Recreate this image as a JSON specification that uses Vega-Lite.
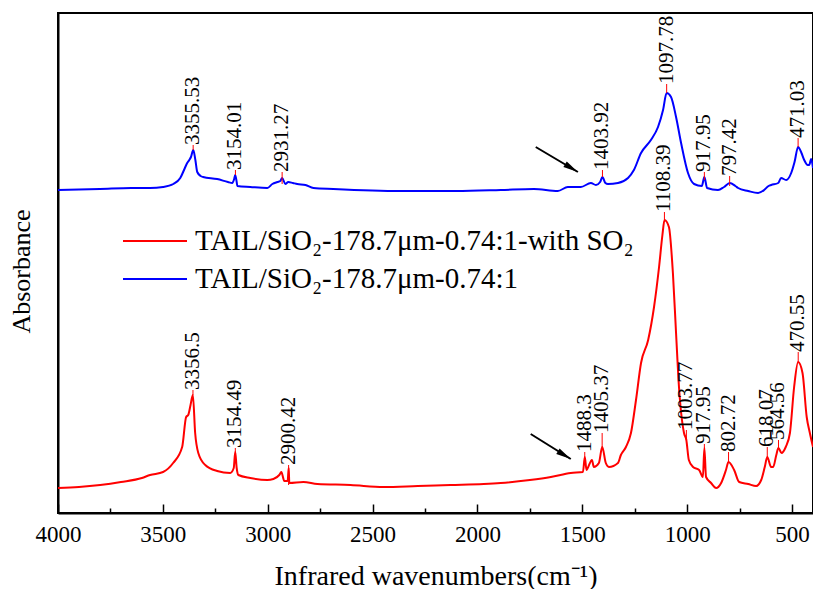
{
  "$schema": "https://vega.github.io/schema/vega-lite/v6.json",
  "width": 755,
  "height": 500,
  "autosize": {"type": "none"},
  "padding": {"left": 58, "top": 13, "right": 0, "bottom": 76},
  "background": "white",
  "config": {
    "font": "Liberation Serif",
    "view": {"stroke": "black", "strokeWidth": 2},
    "axis": {"labelFont": "Liberation Serif", "titleFont": "Liberation Serif", "titleFontWeight": "normal", "domainColor": "black", "domainWidth": 2, "tickColor": "black", "labelColor": "black", "titleColor": "black", "grid": false}
  },
  "datasets": {
    "spectra": [
      {"wn": 4000, "A": 64.6, "s": "blue"}, {"wn": 3800, "A": 64.8, "s": "blue"}, {"wn": 3650, "A": 65, "s": "blue"}, {"wn": 3561, "A": 65, "s": "blue"}, {"wn": 3499, "A": 65.2, "s": "blue"}, {"wn": 3450, "A": 65.8, "s": "blue"}, {"wn": 3417, "A": 67, "s": "blue"}, {"wn": 3395, "A": 69, "s": "blue"}, {"wn": 3384, "A": 70, "s": "blue"}, {"wn": 3374, "A": 70.6, "s": "blue"}, {"wn": 3366, "A": 71.2, "s": "blue"}, {"wn": 3355, "A": 72.6, "s": "blue"}, {"wn": 3345, "A": 70.6, "s": "blue"}, {"wn": 3336, "A": 68.2, "s": "blue"}, {"wn": 3320, "A": 67.4, "s": "blue"}, {"wn": 3308, "A": 67.2, "s": "blue"}, {"wn": 3241, "A": 66.8, "s": "blue"}, {"wn": 3190, "A": 66.2, "s": "blue"}, {"wn": 3169, "A": 66, "s": "blue"}, {"wn": 3160, "A": 66.8, "s": "blue"}, {"wn": 3155, "A": 67.6, "s": "blue"}, {"wn": 3148, "A": 66.2, "s": "blue"}, {"wn": 3145, "A": 65.4, "s": "blue"}, {"wn": 3083, "A": 65.2, "s": "blue"}, {"wn": 3002, "A": 65, "s": "blue"}, {"wn": 2978, "A": 65.8, "s": "blue"}, {"wn": 2954, "A": 66.2, "s": "blue"}, {"wn": 2940, "A": 66.4, "s": "blue"}, {"wn": 2931, "A": 67, "s": "blue"}, {"wn": 2916, "A": 65.8, "s": "blue"}, {"wn": 2902, "A": 66.2, "s": "blue"}, {"wn": 2880, "A": 66, "s": "blue"}, {"wn": 2859, "A": 65.8, "s": "blue"}, {"wn": 2820, "A": 65.6, "s": "blue"}, {"wn": 2782, "A": 65, "s": "blue"}, {"wn": 2687, "A": 64.8, "s": "blue"}, {"wn": 2367, "A": 64.4, "s": "blue"}, {"wn": 2100, "A": 64.4, "s": "blue"}, {"wn": 1889, "A": 64.6, "s": "blue"}, {"wn": 1731, "A": 64.8, "s": "blue"}, {"wn": 1617, "A": 64.4, "s": "blue"}, {"wn": 1569, "A": 65.2, "s": "blue"}, {"wn": 1507, "A": 65.2, "s": "blue"}, {"wn": 1459, "A": 66, "s": "blue"}, {"wn": 1435, "A": 65.6, "s": "blue"}, {"wn": 1415, "A": 66.2, "s": "blue"}, {"wn": 1404, "A": 67.2, "s": "blue"}, {"wn": 1390, "A": 66, "s": "blue"}, {"wn": 1378, "A": 65.8, "s": "blue"}, {"wn": 1330, "A": 66, "s": "blue"}, {"wn": 1282, "A": 67, "s": "blue"}, {"wn": 1254, "A": 68.6, "s": "blue"}, {"wn": 1220, "A": 72, "s": "blue"}, {"wn": 1173, "A": 74.6, "s": "blue"}, {"wn": 1139, "A": 77.2, "s": "blue"}, {"wn": 1115, "A": 80.6, "s": "blue"}, {"wn": 1098, "A": 84, "s": "blue"}, {"wn": 1077, "A": 83.2, "s": "blue"}, {"wn": 1053, "A": 79.2, "s": "blue"}, {"wn": 1029, "A": 74, "s": "blue"}, {"wn": 996, "A": 68, "s": "blue"}, {"wn": 967, "A": 65.8, "s": "blue"}, {"wn": 930, "A": 65.4, "s": "blue"}, {"wn": 918, "A": 67.2, "s": "blue"}, {"wn": 905, "A": 65, "s": "blue"}, {"wn": 853, "A": 64.6, "s": "blue"}, {"wn": 824, "A": 65.2, "s": "blue"}, {"wn": 797, "A": 66, "s": "blue"}, {"wn": 770, "A": 65.4, "s": "blue"}, {"wn": 757, "A": 65, "s": "blue"}, {"wn": 709, "A": 64.4, "s": "blue"}, {"wn": 662, "A": 64, "s": "blue"}, {"wn": 633, "A": 64.6, "s": "blue"}, {"wn": 612, "A": 65.4, "s": "blue"}, {"wn": 599, "A": 65.6, "s": "blue"}, {"wn": 566, "A": 66, "s": "blue"}, {"wn": 552, "A": 67, "s": "blue"}, {"wn": 528, "A": 66.6, "s": "blue"}, {"wn": 504, "A": 68, "s": "blue"}, {"wn": 488, "A": 70.2, "s": "blue"}, {"wn": 471, "A": 73.2, "s": "blue"}, {"wn": 455, "A": 72, "s": "blue"}, {"wn": 442, "A": 70.6, "s": "blue"}, {"wn": 425, "A": 69.6, "s": "blue"}, {"wn": 418, "A": 69.6, "s": "blue"}, {"wn": 409, "A": 70.8, "s": "blue"}, {"wn": 400, "A": 69, "s": "blue"},
      {"wn": 4000, "A": 5, "s": "red"}, {"wn": 3900, "A": 5.2, "s": "red"}, {"wn": 3799, "A": 5.6, "s": "red"}, {"wn": 3700, "A": 6.2, "s": "red"}, {"wn": 3600, "A": 7, "s": "red"}, {"wn": 3561, "A": 7.6, "s": "red"}, {"wn": 3499, "A": 8.2, "s": "red"}, {"wn": 3451, "A": 10, "s": "red"}, {"wn": 3408, "A": 13.2, "s": "red"}, {"wn": 3389, "A": 19.2, "s": "red"}, {"wn": 3379, "A": 19.6, "s": "red"}, {"wn": 3368, "A": 21.6, "s": "red"}, {"wn": 3357, "A": 23.6, "s": "red"}, {"wn": 3346, "A": 16, "s": "red"}, {"wn": 3331, "A": 12, "s": "red"}, {"wn": 3298, "A": 9.6, "s": "red"}, {"wn": 3241, "A": 8.4, "s": "red"}, {"wn": 3179, "A": 8, "s": "red"}, {"wn": 3162, "A": 9, "s": "red"}, {"wn": 3155, "A": 12.2, "s": "red"}, {"wn": 3148, "A": 9, "s": "red"}, {"wn": 3140, "A": 7.6, "s": "red"}, {"wn": 3083, "A": 7, "s": "red"}, {"wn": 3002, "A": 6.6, "s": "red"}, {"wn": 2973, "A": 6.8, "s": "red"}, {"wn": 2945, "A": 7.6, "s": "red"}, {"wn": 2935, "A": 8.2, "s": "red"}, {"wn": 2921, "A": 6.4, "s": "red"}, {"wn": 2905, "A": 6.4, "s": "red"}, {"wn": 2900, "A": 9, "s": "red"}, {"wn": 2897, "A": 6, "s": "red"}, {"wn": 2830, "A": 6.2, "s": "red"}, {"wn": 2763, "A": 5.8, "s": "red"}, {"wn": 2605, "A": 5.6, "s": "red"}, {"wn": 2448, "A": 5.2, "s": "red"}, {"wn": 2285, "A": 5.4, "s": "red"}, {"wn": 2128, "A": 5.6, "s": "red"}, {"wn": 1970, "A": 5.8, "s": "red"}, {"wn": 1889, "A": 6, "s": "red"}, {"wn": 1750, "A": 6.6, "s": "red"}, {"wn": 1650, "A": 7.2, "s": "red"}, {"wn": 1555, "A": 8, "s": "red"}, {"wn": 1497, "A": 8.2, "s": "red"}, {"wn": 1488, "A": 11.2, "s": "red"}, {"wn": 1480, "A": 8.6, "s": "red"}, {"wn": 1474, "A": 9, "s": "red"}, {"wn": 1454, "A": 10.6, "s": "red"}, {"wn": 1445, "A": 9.2, "s": "red"}, {"wn": 1421, "A": 10, "s": "red"}, {"wn": 1405, "A": 13.2, "s": "red"}, {"wn": 1388, "A": 10, "s": "red"}, {"wn": 1373, "A": 9.2, "s": "red"}, {"wn": 1330, "A": 10, "s": "red"}, {"wn": 1316, "A": 11.6, "s": "red"}, {"wn": 1292, "A": 13.2, "s": "red"}, {"wn": 1268, "A": 16, "s": "red"}, {"wn": 1244, "A": 22.6, "s": "red"}, {"wn": 1220, "A": 30, "s": "red"}, {"wn": 1186, "A": 34.6, "s": "red"}, {"wn": 1158, "A": 41.2, "s": "red"}, {"wn": 1134, "A": 49.2, "s": "red"}, {"wn": 1118, "A": 55.6, "s": "red"}, {"wn": 1108, "A": 58.6, "s": "red"}, {"wn": 1087, "A": 57.2, "s": "red"}, {"wn": 1068, "A": 48, "s": "red"}, {"wn": 1053, "A": 36, "s": "red"}, {"wn": 1039, "A": 25.2, "s": "red"}, {"wn": 1015, "A": 16, "s": "red"}, {"wn": 1004, "A": 14.6, "s": "red"}, {"wn": 992, "A": 10.6, "s": "red"}, {"wn": 972, "A": 9.2, "s": "red"}, {"wn": 943, "A": 8.6, "s": "red"}, {"wn": 925, "A": 7.2, "s": "red"}, {"wn": 918, "A": 13, "s": "red"}, {"wn": 910, "A": 7.2, "s": "red"}, {"wn": 886, "A": 6, "s": "red"}, {"wn": 862, "A": 5, "s": "red"}, {"wn": 838, "A": 6, "s": "red"}, {"wn": 815, "A": 8.6, "s": "red"}, {"wn": 803, "A": 10.2, "s": "red"}, {"wn": 776, "A": 8.6, "s": "red"}, {"wn": 752, "A": 6.2, "s": "red"}, {"wn": 709, "A": 5.8, "s": "red"}, {"wn": 671, "A": 5.4, "s": "red"}, {"wn": 647, "A": 6.6, "s": "red"}, {"wn": 630, "A": 9.2, "s": "red"}, {"wn": 618, "A": 11.2, "s": "red"}, {"wn": 600, "A": 9.2, "s": "red"}, {"wn": 590, "A": 9.2, "s": "red"}, {"wn": 575, "A": 11.6, "s": "red"}, {"wn": 565, "A": 13, "s": "red"}, {"wn": 550, "A": 12, "s": "red"}, {"wn": 530, "A": 13.2, "s": "red"}, {"wn": 510, "A": 16, "s": "red"}, {"wn": 490, "A": 25.2, "s": "red"}, {"wn": 471, "A": 30.2, "s": "red"}, {"wn": 450, "A": 28, "s": "red"}, {"wn": 430, "A": 19.2, "s": "red"}, {"wn": 415, "A": 16, "s": "red"}, {"wn": 400, "A": 13.2, "s": "red"}
    ],
    "peaks": [
      {"wn": 3355.53, "y0": 72.6, "y1": 73.6, "label": "3355.53"},
      {"wn": 3154.01, "y0": 67.6, "y1": 68.6, "label": "3154.01"},
      {"wn": 2931.27, "y0": 65.8, "y1": 68.2, "label": "2931.27"},
      {"wn": 1403.92, "y0": 67.2, "y1": 68.6, "label": "1403.92"},
      {"wn": 1097.78, "y0": 84, "y1": 85.8, "label": "1097.78"},
      {"wn": 917.95, "y0": 66.6, "y1": 68.2, "label": "917.95"},
      {"wn": 797.42, "y0": 65.4, "y1": 67.4, "label": "797.42"},
      {"wn": 471.03, "y0": 73.2, "y1": 75, "label": "471.03"},
      {"wn": 3356.5, "y0": 23.6, "y1": 24.6, "label": "3356.5"},
      {"wn": 3154.49, "y0": 12.2, "y1": 13, "label": "3154.49"},
      {"wn": 2900.42, "y0": 5.6, "y1": 9.6, "label": "2900.42"},
      {"wn": 1488.3, "y0": 11.2, "y1": 12.2, "label": "1488.3"},
      {"wn": 1405.37, "y0": 13.2, "y1": 16, "label": "1405.37"},
      {"wn": 1108.39, "y0": 58.6, "y1": 60.2, "label": "1108.39"},
      {"wn": 1003.77, "y0": 14.6, "y1": 16.6, "label": "1003.77"},
      {"wn": 917.95, "y0": 13, "y1": 13.8, "label": "917.95"},
      {"wn": 802.72, "y0": 10.2, "y1": 12.2, "label": "802.72"},
      {"wn": 618.07, "y0": 11.2, "y1": 13.2, "label": "618.07"},
      {"wn": 564.56, "y0": 13, "y1": 14.6, "label": "564.56"},
      {"wn": 470.55, "y0": 30.2, "y1": 32.2, "label": "470.55"}
    ],
    "arrows": [
      {"wn": 1722, "A": 73.2, "wn2": 1521, "A2": 68.2},
      {"wn": 1746, "A": 15.8, "wn2": 1555, "A2": 10.8}
    ]
  },
  "layer": [
    {
      "data": {"name": "spectra"},
      "mark": {"type": "line", "strokeWidth": 2, "interpolate": "monotone"},
      "encoding": {
        "x": {"field": "wn", "type": "quantitative", "scale": {"domain": [4000, 400], "nice": false, "zero": false},
          "axis": {"title": "Infrared wavenumbers(cm⁻¹)", "titleFontSize": 28, "titlePadding": 16,
            "values": [4000, 3750, 3500, 3250, 3000, 2750, 2500, 2250, 2000, 1750, 1500, 1250, 1000, 750, 500],
            "format": "d", "labelFontSize": 23, "labelPadding": 19,
            "labelExpr": "datum.value % 500 === 0 ? datum.label : ''",
            "tickSize": {"condition": {"test": "datum.value % 500 === 0", "value": -9}, "value": -5},
            "tickWidth": 1.5, "labelFlush": false}},
        "y": {"field": "A", "type": "quantitative", "scale": {"domain": [0, 100], "nice": false, "zero": false},
          "axis": {"title": "Absorbance", "titleFontSize": 26, "titlePadding": 24, "titleY": 258, "labels": false, "ticks": false}},
        "color": {"field": "s", "type": "nominal",
          "scale": {"domain": ["red", "blue"], "range": ["#ff0000", "#0000ff"]},
          "legend": {"title": null, "orient": "none", "legendX": 80, "legendY": 211, "padding": 0,
            "labelFont": "Liberation Serif", "labelFontSize": 29, "labelColor": "black", "labelLimit": 0,
            "symbolType": "M-2,0H2", "symbolSize": 1024, "symbolStrokeWidth": 2, "labelOffset": 23, "rowPadding": 6,
            "labelExpr": "datum.value === 'red' ? 'TAIL/SiO₂-178.7μm-0.74:1-with SO₂' : 'TAIL/SiO₂-178.7μm-0.74:1'"}}
      }
    },
    {
      "data": {"name": "peaks"},
      "mark": {"type": "rule", "color": "#ff0000", "strokeWidth": 1},
      "encoding": {
        "x": {"field": "wn", "type": "quantitative"},
        "y": {"field": "y0", "type": "quantitative"},
        "y2": {"field": "y1"}
      }
    },
    {
      "data": {"name": "peaks"},
      "mark": {"type": "text", "angle": 270, "align": "left", "baseline": "middle", "fontSize": 21, "font": "Liberation Serif", "color": "black"},
      "encoding": {
        "x": {"field": "wn", "type": "quantitative"},
        "y": {"field": "y1", "type": "quantitative"},
        "text": {"field": "label"}
      }
    },
    {
      "data": {"name": "arrows"},
      "mark": {"type": "rule", "color": "black", "strokeWidth": 2},
      "encoding": {
        "x": {"field": "wn", "type": "quantitative"},
        "y": {"field": "A", "type": "quantitative"},
        "x2": {"field": "wn2"},
        "y2": {"field": "A2"}
      }
    },
    {
      "data": {"name": "arrows"},
      "mark": {"type": "point", "shape": "M0,0L-0.35,1.6L0.35,1.6Z", "filled": true, "color": "black", "opacity": 1, "size": 350, "angle": 121},
      "encoding": {
        "x": {"field": "wn2", "type": "quantitative"},
        "y": {"field": "A2", "type": "quantitative"}
      }
    }
  ]
}
